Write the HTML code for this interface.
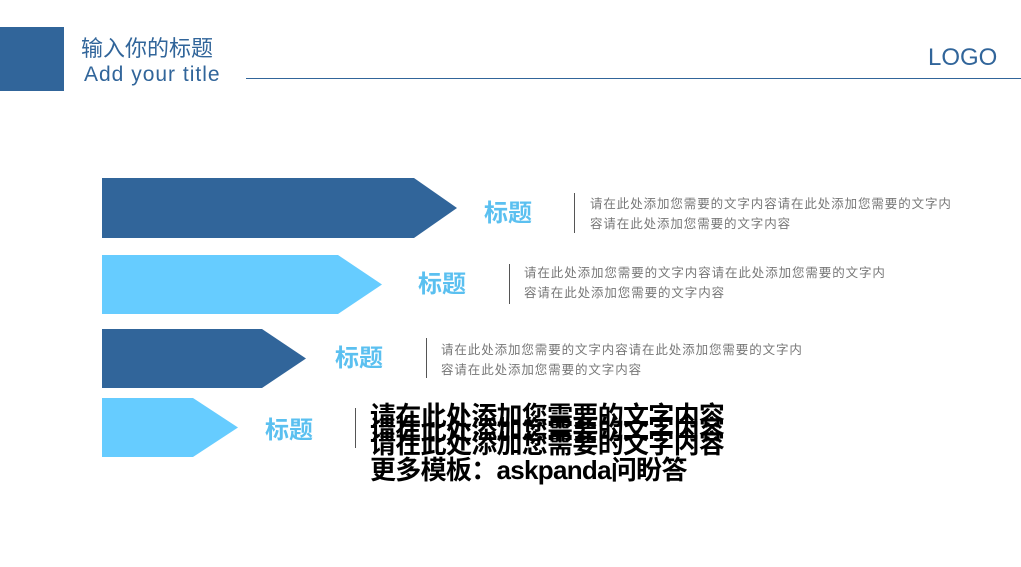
<!DOCTYPE html>
<html><head><meta charset="utf-8"><style>
body{margin:0;width:1021px;height:567px;background:#fff;position:relative;overflow:hidden;font-family:"Liberation Sans","Noto Sans CJK SC",sans-serif}
.a{position:absolute}
.t{position:absolute;font-size:24px;font-weight:bold;color:#5bc0f0;line-height:30px}
.d{position:absolute;width:1px;background:#555;height:40px}
.p{position:absolute;font-size:12.5px;color:#777;line-height:20px;white-space:nowrap;letter-spacing:0.9px}
.b{position:absolute;font-size:26px;font-weight:bold;color:#000;white-space:nowrap;line-height:30px;letter-spacing:-0.7px}
</style></head><body>
<div class="a" style="left:0;top:27px;width:64px;height:64px;background:#31659a"></div>
<div class="a" style="left:81px;top:31px;font-size:22px;color:#31659a">输入你的标题</div>
<div class="a" style="left:84px;top:63px;font-size:21px;color:#31659a;letter-spacing:1px">Add your title</div>
<div class="a" style="left:928px;top:44px;font-size:24px;color:#31659a">LOGO</div>
<div class="a" style="left:246px;top:78px;width:775px;height:1px;background:#31659a"></div>
<svg class="a" style="left:0;top:0" width="1021" height="567">
<polygon points="102,178 414,178 457,208 414,238 102,238" fill="#31659a"/>
<polygon points="102,255 338,255 382,284.5 338,314 102,314" fill="#66ccff"/>
<polygon points="102,329 262,329 306,358.5 262,388 102,388" fill="#31659a"/>
<polygon points="102,398 193,398 238,427.5 193,457 102,457" fill="#66ccff"/>
</svg>
<div class="t" style="left:484px;top:199px">标题</div>
<div class="d" style="left:574px;top:193px"></div>
<div class="p" style="left:590px;top:194px">请在此处添加您需要的文字内容请在此处添加您需要的文字内<br>容请在此处添加您需要的文字内容</div>
<div class="t" style="left:418px;top:270px">标题</div>
<div class="d" style="left:509px;top:264px"></div>
<div class="p" style="left:524px;top:263px">请在此处添加您需要的文字内容请在此处添加您需要的文字内<br>容请在此处添加您需要的文字内容</div>
<div class="t" style="left:335px;top:344px">标题</div>
<div class="d" style="left:426px;top:338px"></div>
<div class="p" style="left:441px;top:340px">请在此处添加您需要的文字内容请在此处添加您需要的文字内<br>容请在此处添加您需要的文字内容</div>
<div class="t" style="left:265px;top:416px">标题</div>
<div class="d" style="left:355px;top:408px"></div>
<div class="b" style="left:370px;top:401px">请在此处添加您需要的文字内容</div>
<div class="b" style="left:370px;top:415px">请在此处添加您需要的文字内容</div>
<div class="b" style="left:370px;top:429px">请在此处添加您需要的文字内容</div>
<div class="b" style="left:370px;top:455px">更多模板：askpanda问盼答</div>
</body></html>
